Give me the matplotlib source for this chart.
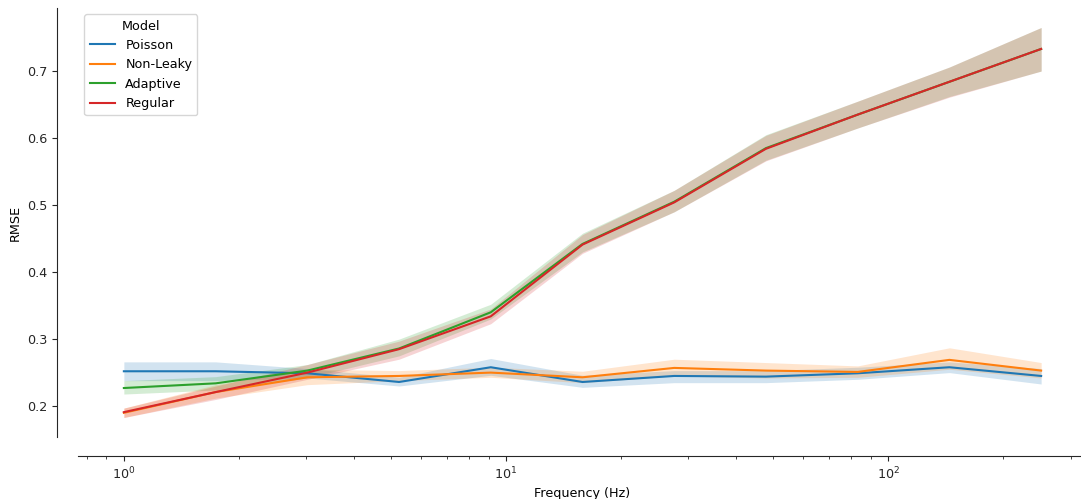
import matplotlib.pyplot as plt
import numpy as np

freqs = [1.0, 1.74, 3.02, 5.25, 9.12, 15.85, 27.54, 47.86, 83.18, 144.54, 251.19]

models = ["Poisson", "Non-Leaky", "Adaptive", "Regular"]
colors = ["#1f77b4", "#ff7f0e", "#2ca02c", "#d62728"]

rmse_poisson = [0.252, 0.252, 0.249, 0.236, 0.258, 0.236, 0.245, 0.244, 0.249, 0.258, 0.245]
low_poisson = [0.238, 0.238, 0.242, 0.230, 0.246, 0.228, 0.235, 0.235, 0.240, 0.250, 0.233]
high_poisson = [0.266, 0.266, 0.256, 0.243, 0.271, 0.246, 0.253, 0.253, 0.258, 0.266, 0.256]

rmse_nonleaky = [0.190, 0.221, 0.243, 0.245, 0.250, 0.243, 0.257, 0.253, 0.251, 0.269, 0.253]
low_nonleaky = [0.183, 0.212, 0.232, 0.238, 0.243, 0.235, 0.245, 0.242, 0.243, 0.255, 0.242]
high_nonleaky = [0.197, 0.232, 0.255, 0.253, 0.258, 0.252, 0.270, 0.265, 0.260, 0.287, 0.265]

rmse_adaptive = [0.227, 0.234, 0.253, 0.286, 0.340, 0.442, 0.505, 0.585, 0.635, 0.684, 0.733]
low_adaptive = [0.218, 0.224, 0.242, 0.275, 0.330, 0.430, 0.490, 0.567, 0.615, 0.662, 0.700]
high_adaptive = [0.238, 0.244, 0.262, 0.300, 0.352, 0.458, 0.522, 0.605, 0.655, 0.706, 0.765]

rmse_regular = [0.191, 0.221, 0.250, 0.285, 0.334, 0.441, 0.504, 0.584, 0.635, 0.684, 0.733]
low_regular = [0.183, 0.210, 0.240, 0.270, 0.323, 0.428, 0.490, 0.566, 0.615, 0.661, 0.700]
high_regular = [0.197, 0.230, 0.262, 0.297, 0.345, 0.456, 0.522, 0.604, 0.655, 0.706, 0.765]

means = [rmse_poisson, rmse_nonleaky, rmse_adaptive, rmse_regular]
lows = [low_poisson, low_nonleaky, low_adaptive, low_regular]
highs = [high_poisson, high_nonleaky, high_adaptive, high_regular]

plt.rcParams["font.size"] = 9.2

fig = plt.figure(figsize=(10.81, 4.99), dpi=100)
ax = fig.add_axes([78 / 1081, 62 / 499, 1009 / 1081, 429 / 499])

for name, color, m, lo, hi in zip(models, colors, means, lows, highs):
    ax.fill_between(freqs, lo, hi, color=color, alpha=0.2, linewidth=0)
    ax.plot(freqs, m, color=color, linewidth=1.5, label=name)

ax.set_xscale("log")
ax.set_xlabel("Frequency (Hz)", labelpad=3)
ax.set_ylabel("RMSE")
ax.set_yticks([0.2, 0.3, 0.4, 0.5, 0.6, 0.7])

for side in ["top", "right"]:
    ax.spines[side].set_visible(False)
ax.spines["left"].set_position(("outward", 15))
ax.spines["bottom"].set_position(("outward", 14))
for side in ["left", "bottom"]:
    ax.spines[side].set_color("0.15")
ax.tick_params(colors="0.15", which="both")

ax.legend(title="Model", loc="upper left")

fig.savefig("out.png", dpi=100)
